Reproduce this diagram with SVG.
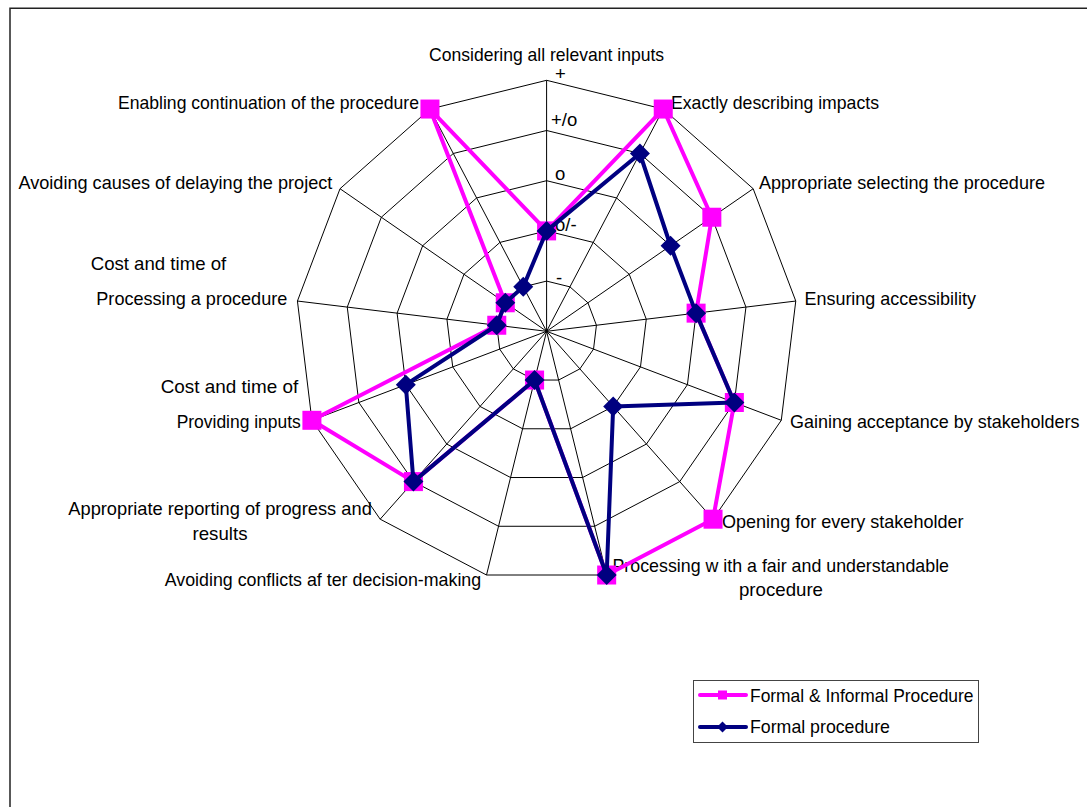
<svg xmlns="http://www.w3.org/2000/svg" width="1087" height="807" viewBox="0 0 1087 807">
  <style>
    text { font-family: "Liberation Sans", Arial, sans-serif; font-size: 18.5px; fill: #000; }
    .grid { fill: none; stroke: #000; stroke-width: 1; }
    .spoke { stroke: #000; stroke-width: 1; }
    .s1 { fill: none; stroke: #FF00FF; stroke-width: 4; stroke-linejoin: round; }
    .s2 { fill: none; stroke: #000080; stroke-width: 4; stroke-linejoin: round; }
    .m1 { fill: #FF00FF; }
    .m2 { fill: #000080; }
  </style>
  <defs>
    <rect id="sq" x="-9.5" y="-9.5" width="19" height="19"/>
    <polygon id="dia" points="0,-10 10,0 0,10 -10,0"/>
    <rect id="sqs" x="-4.5" y="-4.5" width="9" height="9"/>
    <polygon id="dias" points="0,-5.5 5.5,0 0,5.5 -5.5,0"/>
  </defs>

  <rect width="1087" height="807" fill="#fff"/>
  <!-- chart area frame (top and left edges) -->
  <path d="M10,807 V8.25 H1087" fill="none" stroke="#222" stroke-width="1.5"/>

  <!-- radar grid: 13 spokes, 5 rings -->
  <g id="grid" transform="translate(546.6,331.3)">
    <polygon class="grid" points="0,-251 116.64,-222.25 206.57,-142.58 249.17,-30.26 234.69,89 166.44,187.88 60.07,243.71 -60.07,243.71 -166.44,187.88 -234.69,89 -249.17,-30.26 -206.57,-142.58 -116.64,-222.25"/>
    <polygon class="grid" points="0,-200.8 93.32,-177.8 165.25,-114.07 199.34,-24.2 187.75,71.2 133.15,150.3 48.06,194.97 -48.06,194.97 -133.15,150.3 -187.75,71.2 -199.34,-24.2 -165.25,-114.07 -93.32,-177.8"/>
    <polygon class="grid" points="0,-150.6 69.99,-133.35 123.94,-85.55 149.5,-18.15 140.81,53.4 99.87,112.73 36.04,146.22 -36.04,146.22 -99.87,112.73 -140.81,53.4 -149.5,-18.15 -123.94,-85.55 -69.99,-133.35"/>
    <polygon class="grid" points="0,-100.4 46.66,-88.9 82.63,-57.03 99.67,-12.1 93.88,35.6 66.58,75.15 24.03,97.48 -24.03,97.48 -66.58,75.15 -93.88,35.6 -99.67,-12.1 -82.63,-57.03 -46.66,-88.9"/>
    <polygon class="grid" points="0,-50.2 23.33,-44.45 41.31,-28.52 49.83,-6.05 46.94,17.8 33.29,37.58 12.01,48.74 -12.01,48.74 -33.29,37.58 -46.94,17.8 -49.83,-6.05 -41.31,-28.52 -23.33,-44.45"/>
    <path class="spoke" d="M0,0 L0,-251 M0,0 L116.64,-222.25 M0,0 L206.57,-142.58 M0,0 L249.17,-30.26 M0,0 L234.69,89 M0,0 L166.44,187.88 M0,0 L60.07,243.71 M0,0 L-60.07,243.71 M0,0 L-166.44,187.88 M0,0 L-234.69,89 M0,0 L-249.17,-30.26 M0,0 L-206.57,-142.58 M0,0 L-116.64,-222.25"/>
  </g>

  <!-- value scale along the top spoke -->
  <g id="scale">
    <text x="555" y="80">+</text>
    <text x="551" y="126">+/o</text>
    <text x="555" y="180">o</text>
    <text x="555" y="231">o/-</text>
    <text x="556" y="284">-</text>
  </g>

  <!-- category labels -->
  <g id="labels">
    <text id="lbl-0" x="546.6" y="61" text-anchor="middle" textLength="235" lengthAdjust="spacingAndGlyphs">Considering all relevant inputs</text>
    <text id="lbl-1" x="671" y="108.5" textLength="208" lengthAdjust="spacingAndGlyphs">Exactly describing impacts</text>
    <text id="lbl-2" x="759" y="189.3" textLength="286" lengthAdjust="spacingAndGlyphs">Appropriate selecting the procedure</text>
    <text id="lbl-3" x="804.5" y="305" textLength="171.5" lengthAdjust="spacingAndGlyphs">Ensuring accessibility</text>
    <text id="lbl-4" x="790" y="428" textLength="289.5" lengthAdjust="spacingAndGlyphs">Gaining acceptance by stakeholders</text>
    <text id="lbl-5" x="722" y="528.3" textLength="241.5" lengthAdjust="spacingAndGlyphs">Opening for every stakeholder</text>
    <g id="lbl-6">
      <text x="612.5" y="572" textLength="336.5" lengthAdjust="spacingAndGlyphs">Processing w ith a fair and understandable</text>
      <text x="781" y="596" text-anchor="middle" textLength="84" lengthAdjust="spacingAndGlyphs">procedure</text>
    </g>
    <text id="lbl-7" x="164.7" y="586" textLength="316.5" lengthAdjust="spacingAndGlyphs">Avoiding conflicts af ter decision-making</text>
    <g id="lbl-8">
      <text x="68.3" y="515" textLength="303.5" lengthAdjust="spacingAndGlyphs">Appropriate reporting of progress and</text>
      <text x="220" y="540" text-anchor="middle" textLength="55" lengthAdjust="spacingAndGlyphs">results</text>
    </g>
    <g id="lbl-9">
      <text x="160.7" y="393.3" textLength="137.5" lengthAdjust="spacingAndGlyphs">Cost and time of</text>
      <text x="176.7" y="428.3" textLength="124" lengthAdjust="spacingAndGlyphs">Providing inputs</text>
    </g>
    <g id="lbl-10">
      <text x="90.7" y="270" textLength="135.5" lengthAdjust="spacingAndGlyphs">Cost and time of</text>
      <text x="96.3" y="305" textLength="191" lengthAdjust="spacingAndGlyphs">Processing a procedure</text>
    </g>
    <text id="lbl-11" x="18.4" y="189.3" textLength="314" lengthAdjust="spacingAndGlyphs">Avoiding causes of delaying the project</text>
    <text id="lbl-12" x="118" y="109.3" textLength="301" lengthAdjust="spacingAndGlyphs">Enabling continuation of the procedure</text>
  </g>

  <!-- data series -->
  <g id="series" transform="translate(546.6,331.3)">
    <g id="series-formal-informal">
      <polygon class="s1" points="0,-100.4 116.64,-222.25 165.25,-114.07 149.5,-18.15 187.75,71.2 166.44,187.88 60.07,243.71 -12.01,48.74 -133.15,150.3 -234.69,89 -49.83,-6.05 -41.31,-28.52 -116.64,-222.25"/>
      <g class="m1">
        <use href="#sq" x="0" y="-100.4"/>
        <use href="#sq" x="116.64" y="-222.25"/>
        <use href="#sq" x="165.25" y="-114.07"/>
        <use href="#sq" x="149.5" y="-18.15"/>
        <use href="#sq" x="187.75" y="71.2"/>
        <use href="#sq" x="166.44" y="187.88"/>
        <use href="#sq" x="60.07" y="243.71"/>
        <use href="#sq" x="-12.01" y="48.74"/>
        <use href="#sq" x="-133.15" y="150.3"/>
        <use href="#sq" x="-234.69" y="89"/>
        <use href="#sq" x="-49.83" y="-6.05"/>
        <use href="#sq" x="-41.31" y="-28.52"/>
        <use href="#sq" x="-116.64" y="-222.25"/>
      </g>
    </g>
    <g id="series-formal">
      <polygon class="s2" points="0,-100.4 93.32,-177.8 123.94,-85.55 149.5,-18.15 187.75,71.2 66.58,75.15 60.07,243.71 -12.01,48.74 -133.15,150.3 -140.81,53.4 -49.83,-6.05 -41.31,-28.52 -23.33,-44.45"/>
      <g class="m2">
        <use href="#dia" x="0" y="-100.4"/>
        <use href="#dia" x="93.32" y="-177.8"/>
        <use href="#dia" x="123.94" y="-85.55"/>
        <use href="#dia" x="149.5" y="-18.15"/>
        <use href="#dia" x="187.75" y="71.2"/>
        <use href="#dia" x="66.58" y="75.15"/>
        <use href="#dia" x="60.07" y="243.71"/>
        <use href="#dia" x="-12.01" y="48.74"/>
        <use href="#dia" x="-133.15" y="150.3"/>
        <use href="#dia" x="-140.81" y="53.4"/>
        <use href="#dia" x="-49.83" y="-6.05"/>
        <use href="#dia" x="-41.31" y="-28.52"/>
        <use href="#dia" x="-23.33" y="-44.45"/>
      </g>
    </g>
  </g>

  <!-- legend -->
  <g id="legend">
    <rect x="693.5" y="680.5" width="285" height="62" fill="#fff" stroke="#444" stroke-width="1"/>
    <line x1="700" y1="695" x2="746" y2="695" stroke="#FF00FF" stroke-width="4" stroke-linecap="round"/>
    <use href="#sqs" x="722.5" y="695" class="m1"/>
    <text x="750" y="701.5" textLength="223.5" lengthAdjust="spacingAndGlyphs">Formal &amp; Informal Procedure</text>
    <line x1="700" y1="727" x2="746" y2="727" stroke="#000080" stroke-width="4" stroke-linecap="round"/>
    <use href="#dias" x="722.5" y="727" class="m2"/>
    <text x="750" y="733" textLength="140" lengthAdjust="spacingAndGlyphs">Formal procedure</text>
  </g>
</svg>
